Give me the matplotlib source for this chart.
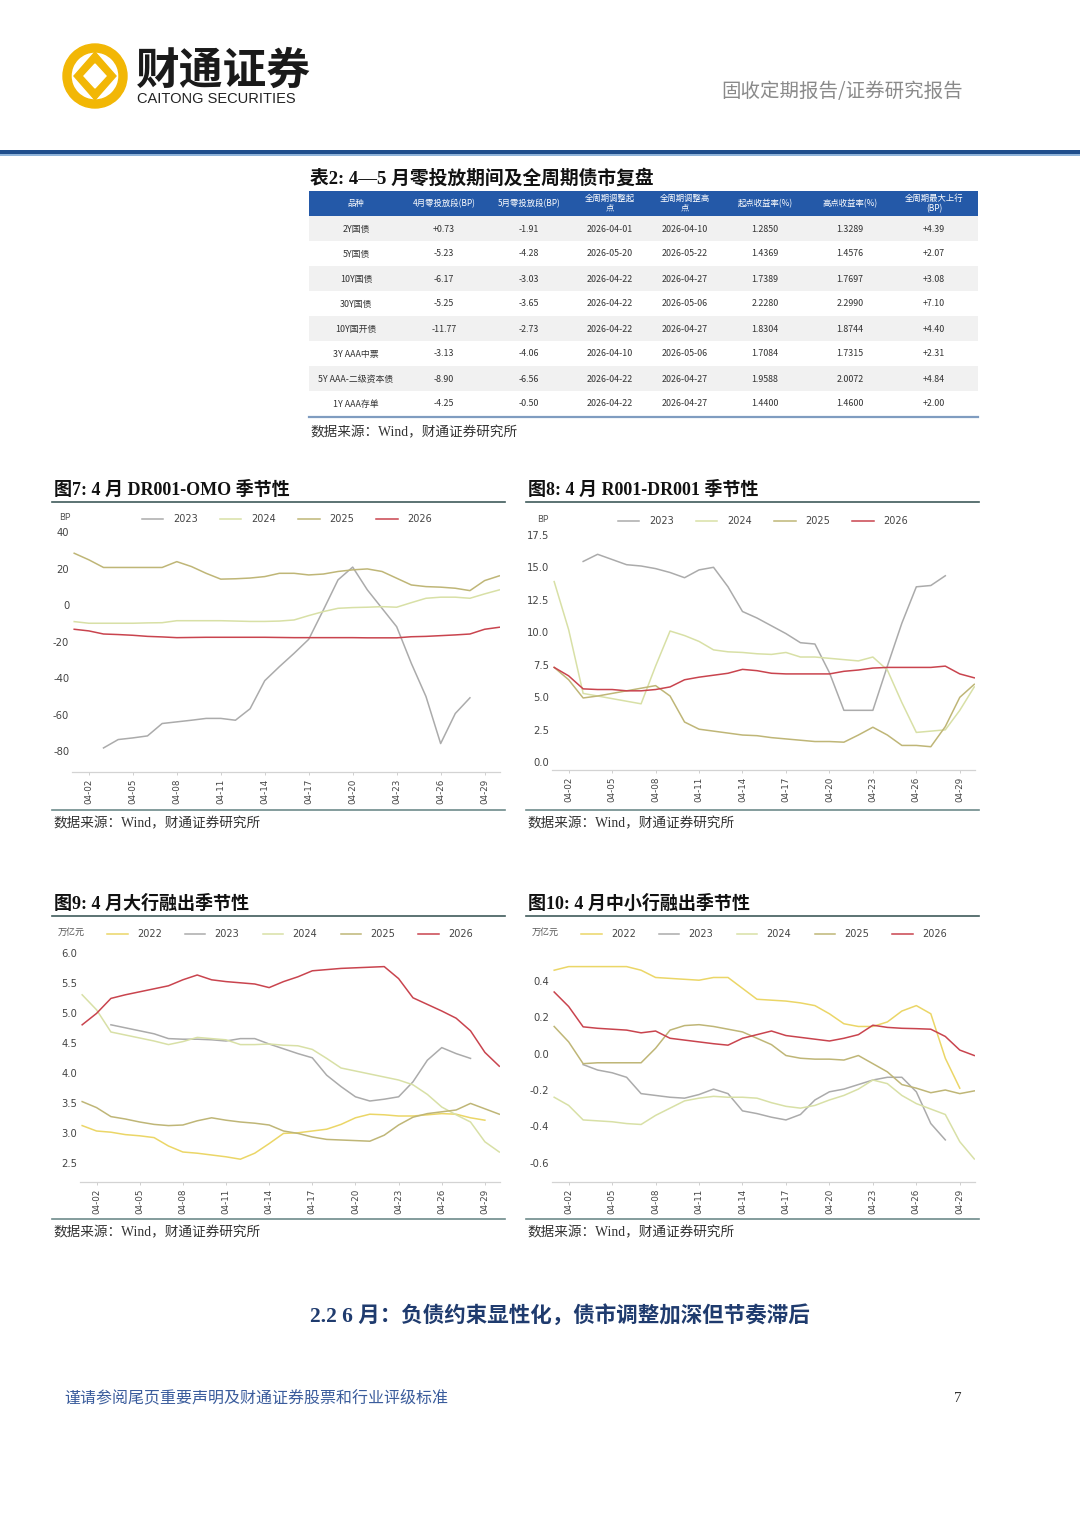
import numpy as np
import matplotlib.pyplot as plt
from matplotlib.patches import Rectangle, Wedge, Polygon
from matplotlib.ticker import FuncFormatter

W, H = 1080, 1526
CJK = ['Noto Sans CJK SC', 'DejaVu Sans']
SERIF = ['Liberation Serif', 'Noto Sans CJK SC']
plt.rcParams['font.family'] = CJK
plt.rcParams['axes.unicode_minus'] = False

nan = np.nan

# ---- x axis (April days) ----
days = ['04-01', '04-02', '04-03', '04-04', '04-05', '04-06', '04-07', '04-08',
        '04-09', '04-10', '04-11', '04-12', '04-13', '04-14', '04-15', '04-16',
        '04-17', '04-18', '04-19', '04-20', '04-21', '04-22', '04-23', '04-24',
        '04-25', '04-26', '04-27', '04-28', '04-29', '04-30']
tick_days = ['04-02', '04-05', '04-08', '04-11', '04-14', '04-17',
             '04-20', '04-23', '04-26', '04-29']

# ---- fig 7: DR001-OMO (BP) ----
dr_2023 = [nan, nan, -78.2, -73.6, -72.7, -71.6, -64.8, -63.9, -63.0, -62.0,
           -62.0, -63.0, -56.7, -41.3, -33.6, -26.3, -18.6, -2.5, 14.0, 21.0,
           8.5, -1.6, -11.7, -31.8, -50.0, -75.8, -59.3, -50.7, nan, nan]
dr_2024 = [-8.9, -9.8, -9.8, -9.8, -9.8, -9.6, -9.5, -8.4, -8.4, -8.4,
           -8.4, -8.6, -8.8, -8.8, -8.6, -8.0, -5.6, -3.4, -1.6, -1.2,
           -1.0, -0.7, -1.0, 1.5, 3.9, 4.5, 4.5, 3.9, 6.3, 8.5]
dr_2025 = [28.6, 25.0, 20.8, 20.8, 20.8, 20.8, 20.8, 24.0, 21.3, 17.6,
           14.4, 14.6, 15.0, 15.8, 17.6, 17.6, 16.7, 17.2, 18.6, 19.5,
           20.0, 18.6, 14.9, 11.2, 10.3, 10.0, 9.4, 8.1, 13.6, 16.2]
dr_2026 = [-13.1, -14.0, -15.7, -16.0, -16.4, -17.0, -17.3, -17.7, -17.6, -17.5,
           -17.5, -17.5, -17.5, -17.5, -17.6, -17.7, -17.7, -17.7, -17.7, -17.7,
           -17.8, -17.8, -17.8, -17.2, -17.0, -16.6, -16.2, -15.7, -13.1, -12.0]

# ---- fig 8: R001-DR001 (BP) ----
r_2023 = [nan, nan, 15.45, 16.0, 15.6, 15.2, 15.1, 14.9, 14.6, 14.2,
          14.8, 15.0, 13.5, 11.6, 11.1, 10.5, 9.9, 9.2, 9.1, 6.9,
          4.0, 4.0, 4.0, 7.4, 10.7, 13.5, 13.6, 14.35, nan, nan]
r_2024 = [13.9, 10.2, 5.3, 5.1, 4.9, 4.7, 4.5, 7.4, 10.1, 9.75,
          9.3, 8.65, 8.5, 8.45, 8.35, 8.3, 8.45, 8.1, 8.1, 8.0,
          7.9, 7.8, 8.1, 7.1, 4.6, 2.3, 2.4, 2.5, 4.0, 5.8]
r_2025 = [7.3, 6.35, 4.95, 5.1, 5.3, 5.5, 5.7, 5.9, 5.1, 3.1,
          2.55, 2.4, 2.25, 2.1, 2.05, 1.9, 1.8, 1.7, 1.6, 1.6,
          1.55, 2.1, 2.7, 2.1, 1.3, 1.3, 1.2, 2.75, 5.0, 6.0]
r_2026 = [7.3, 6.65, 5.65, 5.6, 5.6, 5.5, 5.5, 5.6, 5.8, 6.35,
          6.55, 6.7, 6.85, 7.15, 7.05, 6.85, 6.8, 6.8, 6.8, 6.8,
          7.0, 7.1, 7.25, 7.3, 7.3, 7.3, 7.3, 7.4, 6.8, 6.5]

# ---- fig 9: big banks net lending (trn yuan) ----
b_2022 = [3.13, 3.04, 3.02, 2.98, 2.96, 2.93, 2.79, 2.69, 2.67, 2.64,
          2.61, 2.57, 2.67, 2.83, 3.00, 3.01, 3.04, 3.07, 3.15, 3.26,
          3.32, 3.31, 3.29, 3.29, 3.31, 3.33, 3.32, 3.26, 3.22, nan]
b_2023 = [nan, nan, 4.81, 4.76, 4.71, 4.66, 4.58, 4.57, 4.57, 4.56,
          4.54, 4.58, 4.58, 4.49, 4.41, 4.33, 4.26, 3.97, 3.78, 3.61,
          3.54, 3.57, 3.61, 3.86, 4.22, 4.43, 4.33, 4.25, nan, nan]
b_2024 = [5.31, 5.06, 4.69, 4.64, 4.59, 4.54, 4.48, 4.53, 4.60, 4.58,
          4.56, 4.48, 4.48, 4.49, 4.47, 4.46, 4.40, 4.25, 4.09, 4.04,
          3.99, 3.94, 3.89, 3.81, 3.65, 3.44, 3.31, 3.19, 2.86, 2.69]
b_2025 = [3.53, 3.43, 3.28, 3.24, 3.19, 3.15, 3.13, 3.14, 3.21, 3.26,
          3.22, 3.19, 3.17, 3.14, 3.04, 3.00, 2.94, 2.90, 2.89, 2.88,
          2.87, 2.97, 3.14, 3.27, 3.33, 3.36, 3.39, 3.50, 3.41, 3.32]
b_2026 = [4.81, 5.00, 5.25, 5.31, 5.36, 5.41, 5.46, 5.56, 5.64, 5.56,
          5.53, 5.51, 5.49, 5.43, 5.53, 5.61, 5.71, 5.73, 5.75, 5.76,
          5.77, 5.78, 5.58, 5.26, 5.15, 5.04, 4.92, 4.71, 4.35, 4.12]

# ---- fig 10: small/medium banks net lending (trn yuan) ----
s_2022 = [0.46, 0.48, 0.48, 0.48, 0.48, 0.48, 0.46, 0.42, 0.415, 0.41,
          0.405, 0.42, 0.42, 0.36, 0.30, 0.295, 0.29, 0.28, 0.265, 0.22,
          0.165, 0.15, 0.15, 0.175, 0.235, 0.265, 0.22, -0.025, -0.19, nan]
s_2023 = [nan, nan, -0.06, -0.09, -0.105, -0.13, -0.22, -0.23, -0.24, -0.245,
          -0.225, -0.195, -0.22, -0.315, -0.33, -0.35, -0.365, -0.335, -0.255, -0.21,
          -0.195, -0.17, -0.145, -0.13, -0.13, -0.21, -0.385, -0.475, nan, nan]
s_2024 = [-0.24, -0.285, -0.365, -0.37, -0.375, -0.385, -0.39, -0.34, -0.30, -0.26,
          -0.245, -0.235, -0.24, -0.24, -0.245, -0.27, -0.29, -0.30, -0.285, -0.255,
          -0.23, -0.195, -0.145, -0.165, -0.23, -0.275, -0.305, -0.335, -0.485, -0.58]
s_2025 = [0.15, 0.065, -0.055, -0.05, -0.05, -0.05, -0.05, 0.03, 0.13, 0.155,
          0.16, 0.15, 0.135, 0.12, 0.085, 0.05, -0.01, -0.025, -0.03, -0.03,
          -0.035, -0.01, -0.055, -0.10, -0.17, -0.19, -0.215, -0.20, -0.22, -0.205]
s_2026 = [0.34, 0.26, 0.148, 0.14, 0.135, 0.13, 0.115, 0.125, 0.085, 0.075,
          0.065, 0.055, 0.047, 0.085, 0.105, 0.125, 0.10, 0.09, 0.08, 0.07,
          0.085, 0.105, 0.157, 0.145, 0.14, 0.138, 0.135, 0.095, 0.02, -0.01]

# ---- table 2 ----
tbl_header = ['品种', '4月零投放段(BP)', '5月零投放段(BP)', '全周期调整起\n点',
              '全周期调整高\n点', '起点收益率(%)', '高点收益率(%)', '全周期最大上行\n(BP)']
tbl_names = ['2Y国债', '5Y国债', '10Y国债', '30Y国债', '10Y国开债',
             '3Y AAA中票', '5Y AAA-二级资本债', '1Y AAA存单']
tbl_apr = ['+0.73', '-5.23', '-6.17', '-5.25', '-11.77', '-3.13', '-8.90', '-4.25']
tbl_may = ['-1.91', '-4.28', '-3.03', '-3.65', '-2.73', '-4.06', '-6.56', '-0.50']
tbl_start = ['2026-04-01', '2026-05-20', '2026-04-22', '2026-04-22',
             '2026-04-22', '2026-04-10', '2026-04-22', '2026-04-22']
tbl_peak = ['2026-04-10', '2026-05-22', '2026-04-27', '2026-05-06',
            '2026-04-27', '2026-05-06', '2026-04-27', '2026-04-27']
tbl_y0 = ['1.2850', '1.4369', '1.7389', '2.2280', '1.8304', '1.7084', '1.9588', '1.4400']
tbl_y1 = ['1.3289', '1.4576', '1.7697', '2.2990', '1.8744', '1.7315', '2.0072', '1.4600']
tbl_up = ['+4.39', '+2.07', '+3.08', '+7.10', '+4.40', '+2.31', '+4.84', '+2.00']

colors = {'2022': '#EBD667', '2023': '#ABABAB', '2024': '#D8E0A6',
          '2025': '#BFB677', '2026': '#C9444E'}

fig = plt.figure(figsize=(W / 100, H / 100), dpi=100)
page = fig.add_axes([0, 0, 1, 1])
page.set_xlim(0, W)
page.set_ylim(H, 0)
page.axis('off')

# ---- page header ----
gold = '#F2B705'
page.add_patch(Wedge((95, 76), 32, 0, 360, width=8, color=gold))
page.add_patch(Polygon([(95, 52), (116, 76), (95, 100), (74, 76)], color=gold))
page.add_patch(Polygon([(95, 64), (106, 76), (95, 88), (84, 76)], color='white'))
page.text(136, 71, '财通证券', fontsize=31.5, fontweight='bold', color='#1a1a1a',
          va='center', ha='left')
page.text(137, 99, 'CAITONG SECURITIES', fontsize=10.5, color='#222222',
          family='Liberation Sans', va='center', ha='left')
page.text(963, 91, '固收定期报告/证券研究报告', fontsize=14, color='#8a8a8a',
          va='center', ha='right')
page.add_patch(Rectangle((0, 150), W, 4, color='#1F4E8C', lw=0))
page.add_patch(Rectangle((0, 154), W, 2, color='#8FB3D9', lw=0))

# ---- table ----
page.text(310, 178, '表2: 4—5 月零投放期间及全周期债市复盘', fontsize=13.5,
          fontweight='bold', family=SERIF, va='center', ha='left', color='#111111')
tx0, tx1 = 309, 978
col_x = [356, 444, 529, 610, 685, 765, 850, 934]
page.add_patch(Rectangle((tx0, 191), tx1 - tx0, 25, color='#2459A8', lw=0))
for cx, h in zip(col_x, tbl_header):
    page.text(cx, 203.5, h, fontsize=6, color='white', ha='center', va='center',
              linespacing=1.1)
columns = [tbl_names, tbl_apr, tbl_may, tbl_start, tbl_peak, tbl_y0, tbl_y1, tbl_up]
for i in range(len(tbl_names)):
    top = 216 + 25 * i
    if i % 2 == 0:
        page.add_patch(Rectangle((tx0, top), tx1 - tx0, 25, color='#F1F1F1', lw=0))
    for cx, col in zip(col_x, columns):
        page.text(cx, top + 13, col[i], fontsize=6.4, color='#333333',
                  ha='center', va='center')
page.plot([tx0, tx1], [417, 417], color='#7F9CC0', lw=1.6)
page.text(310, 433, '数据来源：Wind，财通证券研究所', fontsize=9.8, family=SERIF,
          color='#333333', va='center', ha='left')


def fmt_int(v, pos):
    return f'{v:.0f}'


def fmt_1(v, pos):
    return f'{v:.1f}'


def chart(box, x0, title_y, title, lines_y, unit, unit_xy, series, ylim, yticks,
          fmt, leg_center, leg_opts):
    left, top, right, bottom = box
    # title, rules and source
    page.text(x0 + 2, title_y, title, fontsize=13, fontweight='bold', family=SERIF,
              va='center', ha='left', color='#111111')
    page.plot([x0, x0 + 453], [lines_y[0]] * 2, color='#3F5B5B', lw=1.2)
    page.plot([x0, x0 + 453], [lines_y[1]] * 2, color='#6E8B8B', lw=1.2)
    page.text(x0 + 1, lines_y[1] + 14, '数据来源：Wind，财通证券研究所', fontsize=9.8,
              family=SERIF, color='#333333', va='center', ha='left')
    page.text(unit_xy[0], unit_xy[1], unit, fontsize=6.5, color='#555555',
              ha='center', va='center')

    ax = fig.add_axes([left / W, 1 - bottom / H, (right - left) / W, (bottom - top) / H])
    x = np.arange(len(days))
    handles = []
    for yr, vals in series:
        ln, = ax.plot(x, vals, color=colors[yr], lw=1.1, label=yr,
                      zorder=3 if yr == '2026' else 2)
        handles.append(ln)
    ax.set_xlim(-0.15, len(days) - 0.95)
    ax.set_ylim(*ylim)
    ax.set_yticks(yticks)
    ax.yaxis.set_major_formatter(FuncFormatter(fmt))
    ax.set_xticks([days.index(d) for d in tick_days])
    ax.set_xticklabels(tick_days, rotation=90, fontsize=6.3, color='#444444',
                       family='DejaVu Sans')
    for s in ['left', 'right', 'top']:
        ax.spines[s].set_visible(False)
    ax.spines['bottom'].set_color('#D3D3D3')
    ax.spines['bottom'].set_linewidth(0.9)
    ax.tick_params(axis='y', length=0, pad=2, labelsize=7.2, labelcolor='#444444')
    ax.tick_params(axis='x', length=2.5, width=0.6, color='#C8C8C8', pad=2)
    for lab in ax.get_yticklabels():
        lab.set_family('DejaVu Sans')
    ax.patch.set_alpha(0)
    leg = ax.legend(handles=handles, loc='center', ncol=len(handles),
                    bbox_to_anchor=(leg_center[0] / W, 1 - leg_center[1] / H),
                    bbox_transform=fig.transFigure, frameon=False, fontsize=7,
                    **leg_opts)
    for t in leg.get_texts():
        t.set_color('#444444')
        t.set_family('DejaVu Sans')
    return ax


leg4 = dict(handlelength=2.2, handletextpad=1.0, columnspacing=2.3)
leg5 = dict(handlelength=2.1, handletextpad=0.95, columnspacing=2.4)

chart((72, 527, 500, 772), 52, 490, '图7: 4 月 DR001-OMO 季节性', (502, 810), 'BP', (65, 517),
      [('2023', dr_2023), ('2024', dr_2024), ('2025', dr_2025), ('2026', dr_2026)],
      (-91.4, 43), [-80, -60, -40, -20, 0, 20, 40], fmt_int, (287, 519), leg4)

chart((552, 527, 975, 770), 526, 490, '图8: 4 月 R001-DR001 季节性', (502, 810), 'BP', (543, 519),
      [('2023', r_2023), ('2024', r_2024), ('2025', r_2025), ('2026', r_2026)],
      (-0.59, 18.1), [0, 2.5, 5, 7.5, 10, 12.5, 15, 17.5], fmt_1, (763, 521), leg4)

chart((80, 945, 500, 1182), 52, 904, '图9: 4 月大行融出季节性', (916, 1219), '万亿元', (71, 932),
      [('2022', b_2022), ('2023', b_2023), ('2024', b_2024), ('2025', b_2025),
       ('2026', b_2026)],
      (2.19, 6.14), [2.5, 3.0, 3.5, 4.0, 4.5, 5.0, 5.5, 6.0], fmt_1, (290, 934), leg5)

chart((552, 945, 975, 1182), 526, 904, '图10: 4 月中小行融出季节性', (916, 1219), '万亿元', (545, 932),
      [('2022', s_2022), ('2023', s_2023), ('2024', s_2024), ('2025', s_2025),
       ('2026', s_2026)],
      (-0.707, 0.599), [-0.6, -0.4, -0.2, 0.0, 0.2, 0.4], fmt_1, (764, 934), leg5)

# ---- section heading and footer ----
page.text(310, 1316, '2.2 6 月：负债约束显性化，债市调整加深但节奏滞后', fontsize=15.5,
          fontweight='bold', family=SERIF, color='#1F3B6E', va='center', ha='left')
page.text(64, 1398, '谨请参阅尾页重要声明及财通证券股票和行业评级标准', fontsize=11.5,
          color='#3A5C9C', va='center', ha='left')
page.text(958, 1398, '7', fontsize=11, family='Liberation Serif', color='#333333',
          va='center', ha='center')

fig.savefig('out.png', dpi=100)
